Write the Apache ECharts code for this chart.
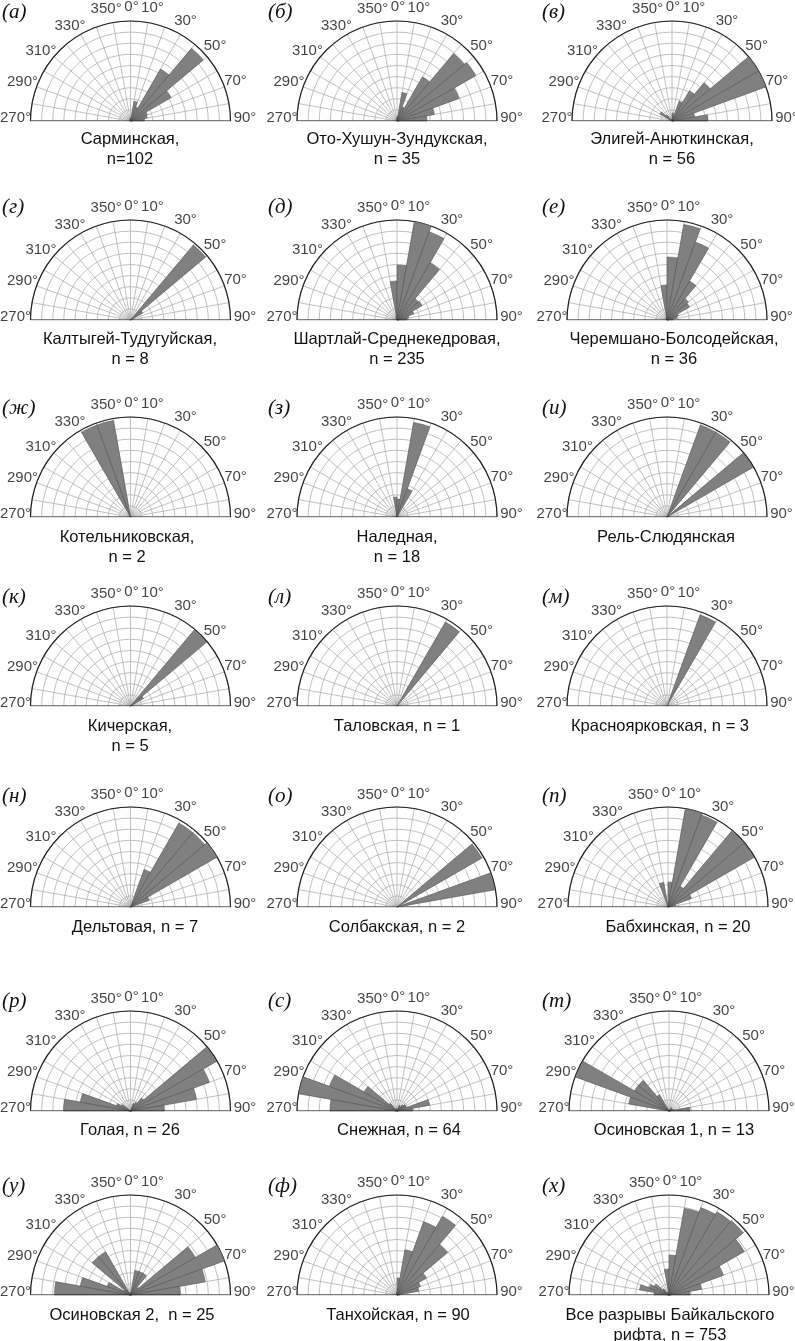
<!DOCTYPE html>
<html><head><meta charset="utf-8">
<style>html,body{margin:0;padding:0;background:#fff}#c{width:795px;height:1341px}</style>
<script src="https://cdn.jsdelivr.net/npm/echarts@6/dist/echarts.min.js"></script>
</head><body><div id="c"></div>
<script>
// 10-degree sectors, left to right: 270-280 ... 350-360, 0-10 ... 80-90
const bins = ['270','280','290','300','310','320','330','340','350','0','10','20','30','40','50','60','70','80'];
const tickLabels = ['270','290','310','330','350','0','10','30','50','70','90'];
const tickAngles = [-90,-70,-50,-30,-10,0,10,30,50,70,90];
const letters = ['(а)','(б)','(в)','(г)','(д)','(е)','(ж)','(з)','(и)','(к)','(л)','(м)','(н)','(о)','(п)','(р)','(с)','(т)','(у)','(ф)','(х)'];
const names = ['Сарминская,\nn=102','Ото-Хушун-Зундукская,\nn = 35','Элигей-Анюткинская,\nn = 56',
 'Калтыгей-Тудугуйская,\nn = 8','Шартлай-Среднекедровая,\nn = 235','Черемшано-Болсодейская,\nn = 36',
 'Котельниковская,\nn = 2','Наледная,\nn = 18','Рель-Слюдянская',
 'Кичерская,\nn = 5','Таловская, n = 1','Красноярковская, n = 3',
 'Дельтовая, n = 7','Солбакская, n = 2','Бабхинская, n = 20',
 'Голая, n = 26','Снежная, n = 64','Осиновская 1, n = 13',
 'Осиновская 2,  n = 25','Танхойская, n = 90','Все разрывы Байкальского\nрифта, n = 753'];
const s01 = [0,0,0,0,0,0,0,2,3,3,20,15,60,95,47,18,17,14];
const s02 = [0,0,0,0,0,0,0,1,3,5,29,15,51,88,91,66,38,30];
const s03 = [0,0,0,14,8,0,0,0,2,8,6,21,35,50,100,100,23,36];
const s04 = [0,0,0,0,0,0,0,0,0,0,0,0,0,98,14,0,0,0];
const s05 = [0,0,0,0,0,0,2,4,39,55,100,94,66,28,29,18,12,10];
const s06 = [0,0,0,0,0,0,2,3,35,63,97,83,45,28,26,12,10,6];
const s07 = [0,0,0,0,0,0,98,98,0,0,0,0,0,0,0,0,0,0];
const s08 = [0,0,0,0,0,0,0,0,20,18,96,30,0,0,0,0,0,0];
const s09 = [0,0,0,0,0,0,0,0,0,0,0,98,98,0,99,0,0,0];
const s10 = [0,0,0,0,0,0,0,0,0,0,0,0,0,99,15,0,0,0];
const s11 = [0,0,0,0,0,0,0,0,0,0,0,0,97,0,0,0,0,0];
const s12 = [0,0,0,0,0,0,0,0,0,0,0,97,0,0,0,0,0,0];
const s13 = [0,0,0,0,0,0,0,0,0,0,0,40,97,97,100,20,0,0];
const s14 = [0,0,0,0,0,0,0,0,0,0,0,0,0,0,98,0,99,0];
const s15 = [0,0,0,0,0,0,0,25,0,25,100,98,24,99,99,25,8,0];
const s16 = [67,51,15,10,0,0,0,0,0,0,0,8,10,17,99,84,67,34];
const s17 = [67,100,72,38,10,0,0,3,0,0,0,6,5,8,10,10,33,16];
const s18 = [0,41,99,40,40,19,0,0,0,0,0,0,4,3,3,3,5,21];
const s19 = [76,51,25,8,50,50,0,0,0,3,25,25,25,10,75,100,76,50];
const s20 = [0,0,0,0,0,0,0,0,3,17,46,78,91,66,34,25,22,3];
const s21 = [15,30,21,17,8,3,0,3,26,40,88,93,96,97,87,58,33,21];
const seriesValues = [s01,s02,s03,s04,s05,s06,s07,s08,s09,s10,s11,s12,s13,s14,s15,s16,s17,s18,s19,s20,s21];

const col1 = 130.5, col2 = 397;
const col3 = [672,667,667,667,668,669,669];
const rowY = [121,320,517,706,907,1111,1295];
const letterX = [2,268,542];
const letterY = [12,207,408,597,796,1001,1186];
const captionX = [130,397,672,130,397,674,127,397,666,130,397,660,135,397,678,130,399,674,132,398,670];
const captionY = [139,339,537,726,927,1130,1315];
const tickOffsets = [[-15,-3.5],[-14,-5],[-13,-6],[-10.5,-9],[-7,-13.5],[1,-14.5],[4.6,-14.5],[5,-13.4],[8,-10.7],[11,-6],[14.5,-3.5]];

const R = 100, tickFont = 'Liberation Sans', grey = '#b0b0b0';
const option = {animation:false, backgroundColor:'#fff', title:[], polar:[], angleAxis:[], radiusAxis:[], series:[]};
names.forEach((name,i)=>{
  const row = Math.floor(i/3), col = i%3;
  const cx = col===0?col1:col===1?col2:col3[row], cy = rowY[row];
  const a = option.polar.length, b = a+1;
  option.polar.push({center:[cx,cy],radius:[0,R]},{center:[cx,cy],radius:[0,R]});
  option.angleAxis.push({polarIndex:a,type:'value',min:-90,max:90,interval:10,startAngle:180,endAngle:0,clockwise:true,
    axisLine:{show:true,lineStyle:{color:'#222',width:1.2}},axisTick:{show:false},
    splitLine:{show:true,lineStyle:{color:grey,width:.8}},axisLabel:{show:false}});
  option.radiusAxis.push({polarIndex:a,type:'value',min:0,max:9,interval:1,axisLine:{show:false},axisTick:{show:false},axisLabel:{show:false},
    splitLine:{show:true,lineStyle:{color:grey,width:.8}}});
  option.angleAxis.push({polarIndex:b,type:'category',data:bins,boundaryGap:true,startAngle:180,endAngle:0,clockwise:true,
    axisLine:{show:false},axisTick:{show:false},axisLabel:{show:false},splitLine:{show:false}});
  option.radiusAxis.push({polarIndex:b,type:'value',min:0,max:100,axisLine:{show:false},axisTick:{show:false},axisLabel:{show:false},splitLine:{show:false}});
  option.series.push({type:'bar',coordinateSystem:'polar',polarIndex:b,data:seriesValues[i],barWidth:'100%',barGap:'0%',z:3,silent:true,
    itemStyle:{color:'#808080',borderColor:'#4c4c4c',borderWidth:.5}});
  option.series.push({type:'line',coordinateSystem:'polar',polarIndex:a,data:[[9,-90],[0,-90],[9,90]],showSymbol:false,z:4,silent:true,
    lineStyle:{color:'#222',width:1.2}});
  option.series.push({type:'scatter',coordinateSystem:'polar',polarIndex:a,symbolSize:1,z:5,silent:true,
    itemStyle:{color:'transparent'},
    data:tickLabels.map((t,k)=>({value:[9,tickAngles[k]],name:t+'°',
      label:{show:true,formatter:t+'°',position:'inside',align:'center',verticalAlign:'middle',offset:tickOffsets[k],
        color:'#111',fontFamily:tickFont,fontSize:15}}))});
  option.title.push({text:letters[i],left:letterX[col],top:letterY[row],padding:0,textVerticalAlign:'middle',
    textStyle:{fontFamily:'Liberation Serif',fontStyle:'italic',fontWeight:'normal',fontSize:21,color:'#111'}});
  option.title.push({text:name,left:captionX[i],top:captionY[row]-9,padding:0,textAlign:'center',
    textStyle:{fontFamily:tickFont,fontWeight:'normal',fontSize:16.5,lineHeight:19.5,color:'#111'}});
});
echarts.init(document.getElementById('c'),null,{renderer:'canvas'}).setOption(option);
</script></body></html>
